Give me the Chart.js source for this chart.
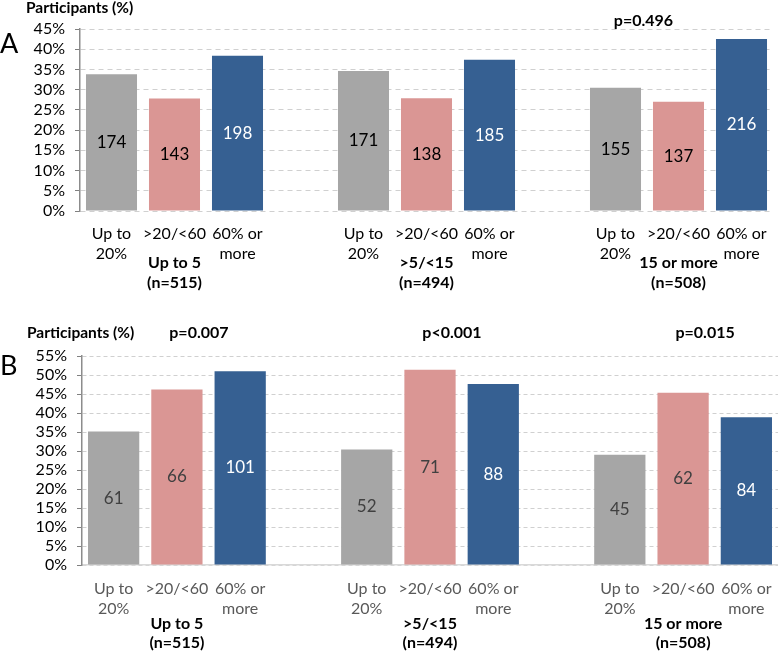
<!DOCTYPE html>
<html>
<head>
<meta charset="utf-8">
<script src="https://cdn.jsdelivr.net/npm/chart.js@4.4.1/dist/chart.umd.min.js"></script>
<style>
  body { margin: 0; background: #fff; font-family: Lato, sans-serif; }
  .wrap { position: absolute; left: 0; width: 778px; }
  .ytitle { position: absolute; font-weight: bold; font-size: 15.5px; color: #000; }
  .panel { position: absolute; font-size: 27px; color: #000; }
</style>
</head>
<body>
<div class="wrap" style="top:0;height:320px"><canvas id="chartA"></canvas></div>
<div class="wrap" style="top:320px;height:332px"><canvas id="chartB"></canvas></div>
<div class="ytitle" style="left:26px;top:-2px">Participants (%)</div>
<div class="ytitle" style="left:27px;top:323px">Participants (%)</div>
<div class="panel" style="left:0px;top:26px">A</div>
<div class="panel" style="left:0px;top:348px">B</div>
<script>
// categories within each group, and the groups
const barLabels = [['Up to', '20%'], '>20/<60', ['60% or', 'more']];
const groupNames = ['Up to 5', '>5/<15', '15 or more'];
const groupN = ['(n=515)', '(n=494)', '(n=508)'];
const barColors = ['#A6A6A6', '#DA9694', '#366092'];

// panel A: % of participants, and counts printed in the bars
const pctA = [33.8, 27.8, 38.4, 34.6, 27.9, 37.4, 30.5, 27.0, 42.5];
const countA = [174, 143, 198, 171, 138, 185, 155, 137, 216];
const pValA = [null, null, 'p=0.496'];

// panel B
const pctB = [35.1, 46.2, 51.0, 30.4, 51.4, 47.6, 29.0, 45.3, 38.9];
const countB = [61, 66, 101, 52, 71, 88, 45, 62, 84];
const pValB = ['p=0.007', 'p<0.001', 'p=0.015'];

// y ticks
const yMaxA = 45, yMaxB = 55, yStep = 5;

// spread the 9 bars over 11 slots (one empty slot between groups)
function slots(arr) {
  const out = [];
  for (let g = 0; g < 3; g++) {
    if (g > 0) out.push(null);
    for (let i = 0; i < 3; i++) out.push(arr[g * 3 + i]);
  }
  return out;
}
const labels = slots(groupNames.flatMap(() => barLabels)).map(l => l === null ? '' : l);
const colors = slots(groupNames.flatMap(() => barColors)).map(c => c || '#fff');
const midIndex = [1, 5, 9];

function makeChart(id, opt) {
  const valuePlugin = {
    id: 'vals',
    afterDatasetsDraw(chart) {
      const ctx = chart.ctx;
      const meta = chart.getDatasetMeta(0);
      const counts = slots(opt.counts);
      ctx.save();
      ctx.font = '17px Lato';
      ctx.textAlign = 'center';
      ctx.textBaseline = 'middle';
      meta.data.forEach((el, i) => {
        if (counts[i] == null) return;
        ctx.fillStyle = (i % 4 === 2) ? '#fff' : opt.valColor;
        ctx.fillText(String(counts[i]), el.x, (el.y + el.base) / 2);
      });
      ctx.restore();
    },
    afterDraw(chart) {
      const ctx = chart.ctx;
      const xs = chart.scales.x;
      const bottom = chart.chartArea.bottom;
      ctx.save();
      ctx.textAlign = 'center';
      ctx.textBaseline = 'middle';
      ctx.fillStyle = '#000';
      ctx.font = 'bold 16px Lato';
      midIndex.forEach((m, g) => {
        const x = xs.getPixelForValue(m);
        ctx.fillText(groupNames[g], x, bottom + opt.groupY[0]);
        ctx.fillText(groupN[g], x, bottom + opt.groupY[1]);
        if (opt.pvals[g]) ctx.fillText(opt.pvals[g], x + opt.pOffset, opt.pY);
      });
      ctx.restore();
    }
  };

  return new Chart(document.getElementById(id), {
    type: 'bar',
    data: {
      labels: labels,
      datasets: [{
        data: slots(opt.pct),
        backgroundColor: colors,
        barPercentage: 0.81,
        categoryPercentage: 1
      }]
    },
    options: {
      responsive: true,
      maintainAspectRatio: false,
      animation: false,
      layout: { padding: opt.padding },
      plugins: { legend: { display: false }, tooltip: { enabled: false } },
      scales: {
        x: {
          grid: { display: false },
          border: { display: opt.xBorder, color: '#D9D9D9', width: 1.5 },
          ticks: {
            color: opt.xColor,
            font: { family: 'Lato', size: 16, lineHeight: 1.3 },
            padding: opt.xPad,
            maxRotation: 0,
            autoSkip: false
          },
          afterFit: s => { s.height = opt.xHeight; }
        },
        y: {
          min: 0,
          max: opt.yMax,
          grid: { color: '#D0D0D0', lineWidth: 1, tickLength: 5, tickColor: '#808080' },
          border: { display: true, color: '#8C8C8C', width: 1.5, dash: opt.dash },
          ticks: {
            stepSize: yStep,
            autoSkip: false,
            color: '#000',
            padding: 10,
            font: { family: 'Lato', size: 16 },
            callback: v => v + '%'
          },
          afterFit: s => { s.width = opt.yWidth; }
        }
      }
    },
    plugins: [valuePlugin]
  });
}

makeChart('chartA', {
  pct: pctA, counts: countA, pvals: pValA, yMax: yMaxA,
  padding: { top: 29, right: 5, left: 0, bottom: 0 },
  xHeight: 109, yWidth: 80, xPad: 4, xColor: '#000', xBorder: false,
  valColor: '#000', groupY: [52, 72], pOffset: -35, pY: 21, dash: [5, 4]
});
makeChart('chartB', {
  pct: pctB, counts: countB, pvals: pValB, yMax: yMaxB,
  padding: { top: 36, right: 0, left: 0, bottom: 0 },
  xHeight: 87, yWidth: 82, xPad: 5, xColor: '#595959', xBorder: true,
  valColor: '#404040', groupY: [59, 78], pOffset: 22, pY: 13, dash: [4, 3]
});
</script>
</body>
</html>
